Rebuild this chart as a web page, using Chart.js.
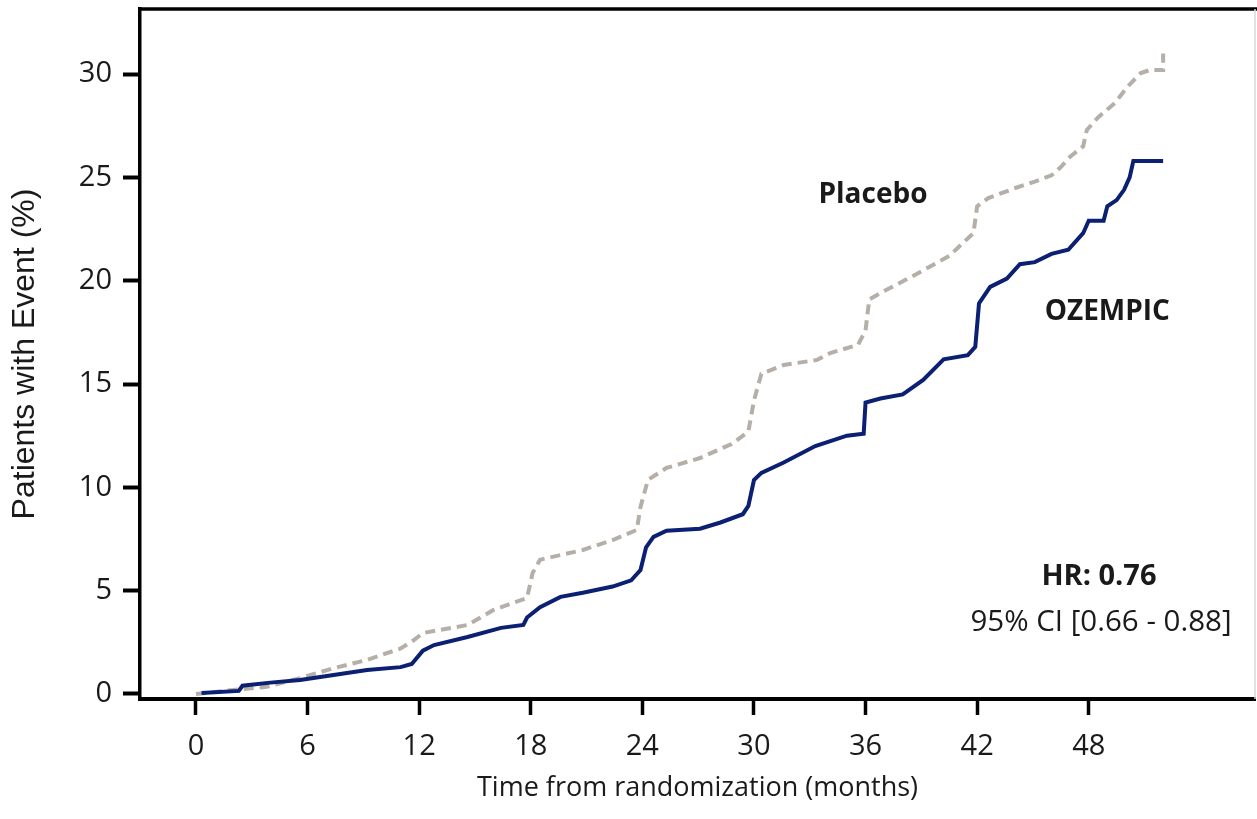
<!DOCTYPE html>
<html>
<head>
<meta charset="utf-8">
<script src="https://cdn.jsdelivr.net/npm/chart.js@4.4.1/dist/chart.umd.min.js"></script>
<style>
  html, body { margin: 0; padding: 0; background: #fff; }
  #wrap { width: 1257px; height: 819px; }
</style>
</head>
<body>
<div id="wrap"><canvas id="kmChart" width="1257" height="819"></canvas></div>
<script>
// months / cumulative %
const ozempicMonths = [0.3, 2.3, 2.5, 4.0, 5.6, 7.4, 9.2, 11.0, 11.6, 12.2, 12.8, 14.6, 16.4, 17.6, 17.8, 18.5, 19.6, 20.8, 22.4, 23.4, 23.9, 24.2, 24.6, 25.3, 27.1, 28.2, 29.4, 29.7, 30.0, 30.4, 31.6, 33.3, 35.0, 35.9, 36.0, 36.8, 38.0, 39.1, 40.2, 41.5, 41.9, 42.1, 42.7, 43.6, 44.3, 45.1, 46.0, 46.9, 47.7, 48.0, 48.8, 49.0, 49.5, 49.9, 50.2, 50.4, 52.0];
const ozempicPct    = [0.05, 0.15, 0.4, 0.55, 0.68, 0.92, 1.16, 1.3, 1.45, 2.1, 2.37, 2.76, 3.2, 3.34, 3.7, 4.2, 4.7, 4.9, 5.2, 5.5, 6.0, 7.1, 7.6, 7.9, 8.0, 8.3, 8.7, 9.1, 10.35, 10.7, 11.2, 12.0, 12.5, 12.6, 14.1, 14.3, 14.5, 15.2, 16.2, 16.4, 16.8, 18.9, 19.7, 20.1, 20.8, 20.9, 21.3, 21.5, 22.3, 22.9, 22.9, 23.6, 23.9, 24.4, 25.0, 25.8, 25.8];

const placeboMonths = [0.0, 2.0, 3.8, 5.6, 7.4, 9.2, 11.0, 11.7, 12.2, 14.6, 16.0, 17.8, 18.1, 18.5, 20.8, 22.4, 23.7, 23.9, 24.3, 25.3, 27.1, 28.8, 29.7, 30.0, 30.4, 31.6, 33.4, 34.1, 35.6, 36.0, 36.2, 37.0, 38.7, 40.5, 41.8, 42.0, 42.6, 44.1, 45.1, 46.0, 46.5, 47.0, 47.7, 47.9, 48.5, 49.4, 50.1, 50.8, 51.3, 52.0, 52.0];
const placeboPct    = [0.0, 0.2, 0.35, 0.77, 1.25, 1.65, 2.2, 2.6, 2.95, 3.34, 4.07, 4.65, 5.86, 6.5, 6.97, 7.45, 7.94, 9.05, 10.36, 10.94, 11.42, 12.1, 12.7, 14.2, 15.5, 15.92, 16.17, 16.5, 16.9, 17.6, 19.1, 19.5, 20.3, 21.2, 22.3, 23.6, 24.0, 24.5, 24.8, 25.1, 25.5, 26.0, 26.5, 27.3, 27.9, 28.6, 29.4, 30.05, 30.2, 30.2, 31.0];

const xTicks = [0, 6, 12, 18, 24, 30, 36, 42, 48];
const yTicks = [0, 5, 10, 15, 20, 25, 30];

const toPoints = (xs, ys) => xs.map((x, i) => ({ x: x, y: ys[i] }));

// text placed in data space
const notes = [
    { text: 'Placebo', x: 36.4, y: 24.15, font: 'bold 28px "Open Sans"' },
    { text: 'OZEMPIC', x: 49.0, y: 18.5, font: 'bold 28px "Open Sans"' },
    { text: 'HR: 0.76', x: 48.55, y: 5.66, font: 'bold 29px "Open Sans"' },
    { text: '95% CI [0.66 - 0.88]', x: 48.66, y: 3.44, font: '29.5px "Open Sans"' }
];

const framePlugin = {
    id: 'frame',
    afterDraw(chart) {
        const { ctx, chartArea: a, scales } = chart;
        ctx.save();
        // top and right edges of the box
        ctx.strokeStyle = '#000';
        ctx.lineWidth = 3.5;
        ctx.beginPath();
        ctx.moveTo(a.left - 1.5, a.top);
        ctx.lineTo(chart.width, a.top);
        ctx.stroke();
        ctx.strokeStyle = '#d8d8d8';
        ctx.lineWidth = 1.5;
        ctx.beginPath();
        ctx.moveTo(a.right, a.top);
        ctx.lineTo(a.right, a.bottom);
        ctx.stroke();

        ctx.fillStyle = '#1a1a1a';
        ctx.textAlign = 'center';
        ctx.textBaseline = 'middle';
        notes.forEach(n => {
            ctx.font = n.font;
            ctx.fillText(n.text, scales.x.getPixelForValue(n.x), scales.y.getPixelForValue(n.y));
        });
        ctx.restore();
    }
};

const ctx = document.getElementById('kmChart').getContext('2d');
new Chart(ctx, {
    type: 'line',
    data: {
        datasets: [{
            label: 'OZEMPIC',
            data: toPoints(ozempicMonths, ozempicPct),
            borderColor: '#0b1f73',
            borderWidth: 4,
            pointRadius: 0,
            tension: 0,
            fill: false
        }, {
            label: 'Placebo',
            data: toPoints(placeboMonths, placeboPct),
            borderColor: '#b5afa8',
            borderWidth: 4,
            borderDash: [10, 6],
            pointRadius: 0,
            tension: 0,
            fill: false
        }]
    },
    options: {
        responsive: false,
        animation: false,
        devicePixelRatio: 1,
        layout: { padding: { top: 9, right: 2, left: 0, bottom: 0 } },
        plugins: {
            legend: { display: false },
            tooltip: { enabled: false }
        },
        scales: {
            x: {
                type: 'linear',
                min: -3.01,
                max: 56.94,
                afterFit: s => { s.height = 120; s.paddingLeft = 0; s.paddingRight = 0; },
                afterBuildTicks: s => { s.ticks = xTicks.map(v => ({ value: v })); },
                border: { display: true, color: '#000', width: 4 },
                grid: { drawOnChartArea: false, drawTicks: true, tickLength: 16, tickWidth: 3.5, tickColor: '#000' },
                ticks: { color: '#1a1a1a', padding: 14, maxRotation: 0, autoSkip: false, font: { family: 'Open Sans', size: 29 } },
                title: {
                    display: true,
                    text: 'Time from randomization (months)',
                    color: '#1a1a1a',
                    font: { family: 'Open Sans', size: 27 },
                    padding: { top: 0, bottom: 14 }
                }
            },
            y: {
                type: 'linear',
                min: -0.242,
                max: 33.15,
                afterFit: s => { s.width = 140; s.paddingTop = 0; s.paddingBottom = 0; },
                afterBuildTicks: s => { s.ticks = yTicks.map(v => ({ value: v })); },
                border: { display: true, color: '#000', width: 3.5 },
                grid: { drawOnChartArea: false, drawTicks: true, tickLength: 17, tickWidth: 4, tickColor: '#000' },
                ticks: { color: '#1a1a1a', padding: 11, font: { family: 'Open Sans', size: 29 } },
                title: {
                    display: true,
                    text: 'Patients with Event (%)',
                    color: '#1a1a1a',
                    font: { family: 'Liberation Sans', size: 32 },
                    padding: { top: 6, bottom: 0 }
                }
            }
        }
    },
    plugins: [framePlugin]
});
</script>
</body>
</html>
